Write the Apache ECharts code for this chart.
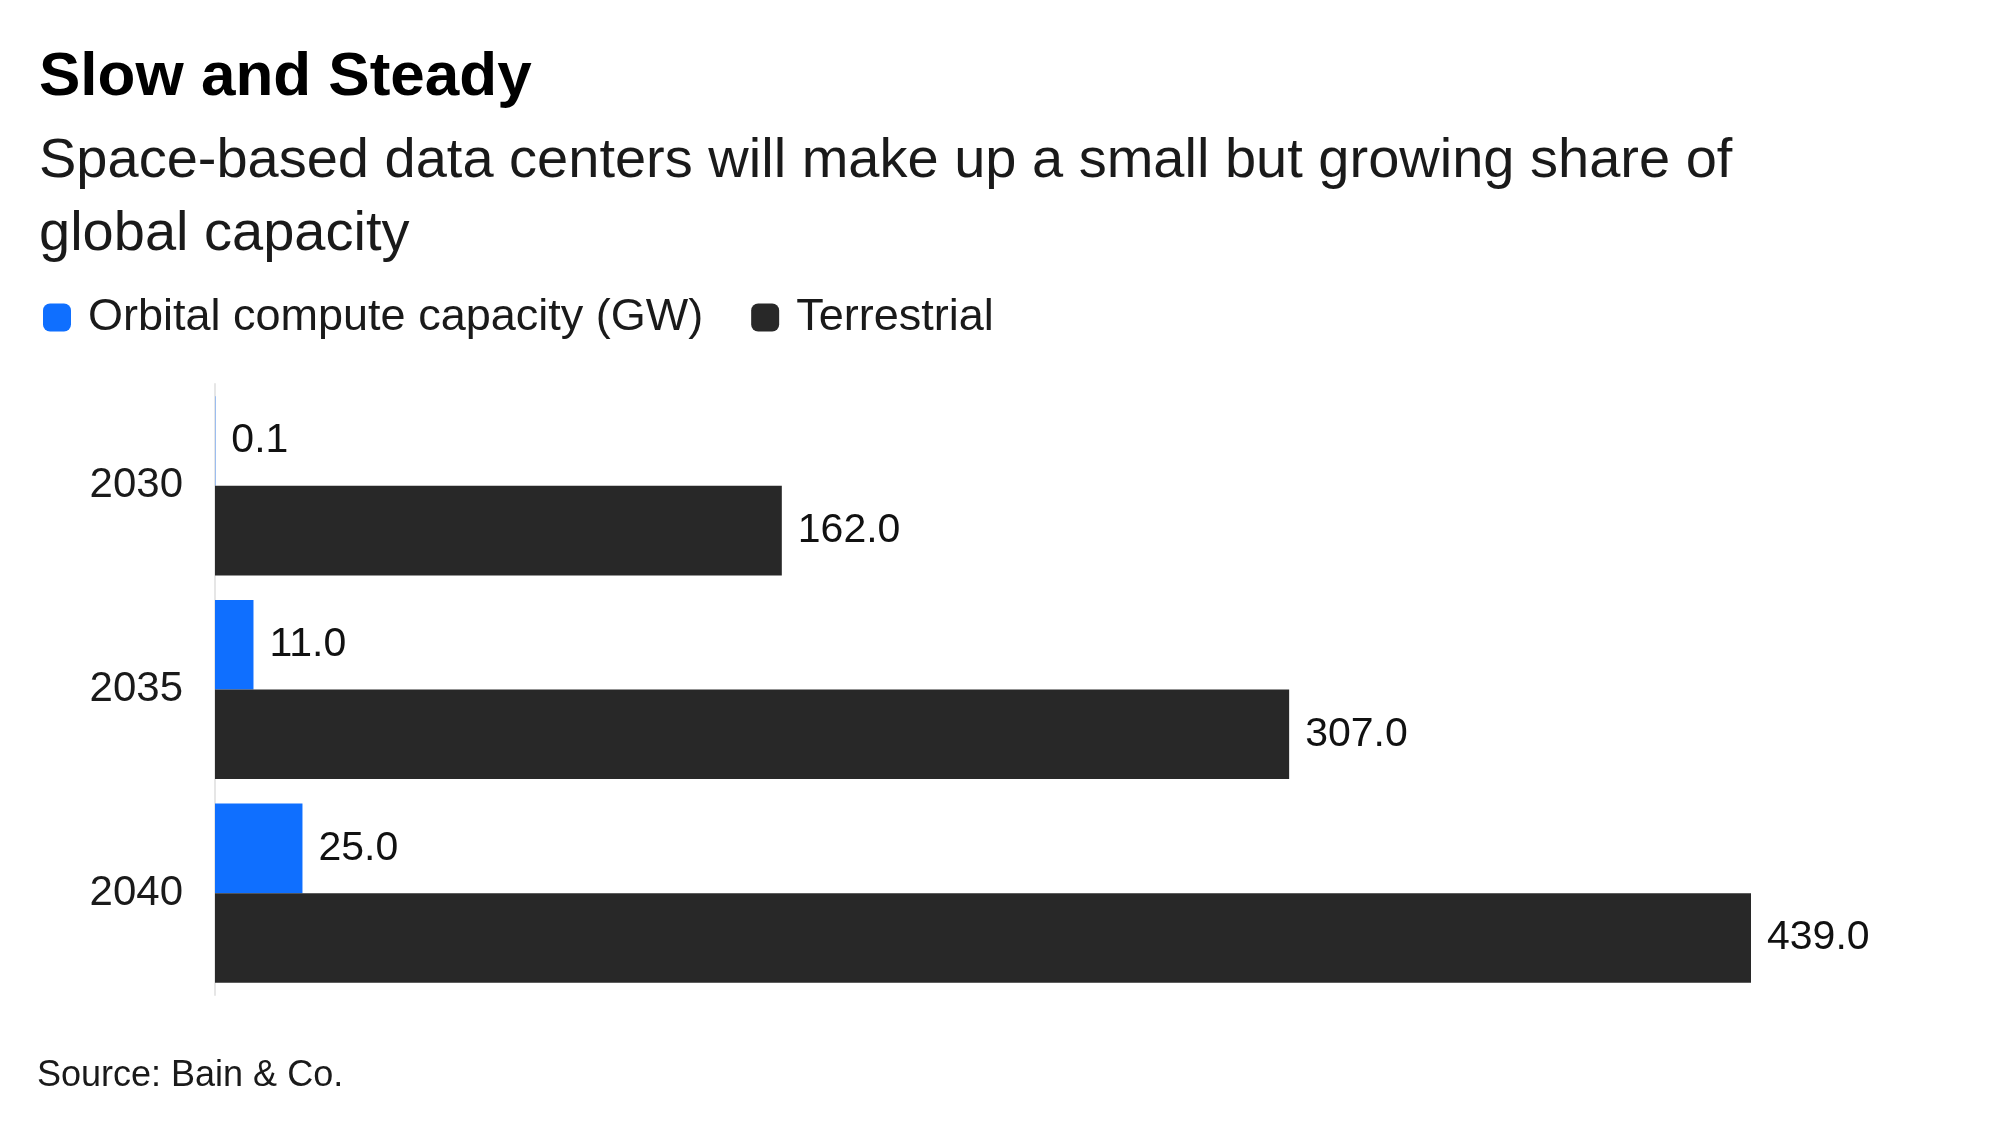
<!DOCTYPE html>
<html>
<head>
<meta charset="utf-8">
<script src="https://cdn.jsdelivr.net/npm/echarts@6/dist/echarts.min.js"></script>
<style>html,body{margin:0;padding:0;background:#fff}#chart{width:2000px;height:1135px}</style>
</head>
<body>
<div id="chart"></div>
<script>
var years = ['2030', '2035', '2040'];
var orbital = [0.1, 11.0, 25.0];
var terrestrial = [162.0, 307.0, 439.0];

var myChart = echarts.init(document.getElementById('chart'));
var font = 'Liberation Sans, Arial, sans-serif';

var valueLabel = {
    show: true,
    position: 'right',
    distance: 16,
    color: '#111',
    fontSize: 41,
    fontFamily: font,
    formatter: function (p) { return p.value.toFixed(1); }
};

var option = {
    animation: false,
    backgroundColor: '#fff',
    title: {
        text: 'Slow and Steady',
        subtext: 'Space-based data centers will make up a small but growing share of\nglobal capacity',
        left: 34,
        top: 42,
        itemGap: 16,
        textStyle: { fontFamily: font, fontWeight: 'bold', fontSize: 62, color: '#000' },
        subtextStyle: { fontFamily: font, fontSize: 56, color: '#1a1a1a', lineHeight: 73 }
    },
    legend: {
        left: 38,
        top: 290,
        icon: 'roundRect',
        itemWidth: 28,
        itemHeight: 28,
        itemGap: 48,
        textStyle: { fontFamily: font, fontSize: 45, color: '#1a1a1a', padding: [0, 0, 0, 12] },
        data: ['Orbital compute capacity (GW)', 'Terrestrial']
    },
    grid: { left: 215, right: 249, top: 384, bottom: 140 },
    xAxis: {
        type: 'value',
        min: 0,
        max: 439,
        show: false
    },
    yAxis: {
        type: 'category',
        inverse: true,
        data: years,
        axisLine: { show: true, lineStyle: { color: '#e6e6e6', width: 2 } },
        axisTick: { show: false },
        axisLabel: { fontFamily: font, fontSize: 42, color: '#1a1a1a', margin: 32 }
    },
    series: [
        {
            name: 'Orbital compute capacity (GW)',
            type: 'bar',
            data: orbital,
            barGap: '0%',
            barCategoryGap: '12%',
            itemStyle: { color: '#0f6fff' },
            label: valueLabel
        },
        {
            name: 'Terrestrial',
            type: 'bar',
            data: terrestrial,
            barGap: '0%',
            barCategoryGap: '12%',
            itemStyle: { color: '#282828' },
            label: valueLabel
        }
    ],
    graphic: [{
        type: 'text',
        left: 37,
        top: 1058,
        style: { text: 'Source: Bain & Co.', fontFamily: font, fontSize: 36, fill: '#1a1a1a' }
    }]
};

myChart.setOption(option);
</script>
</body>
</html>
